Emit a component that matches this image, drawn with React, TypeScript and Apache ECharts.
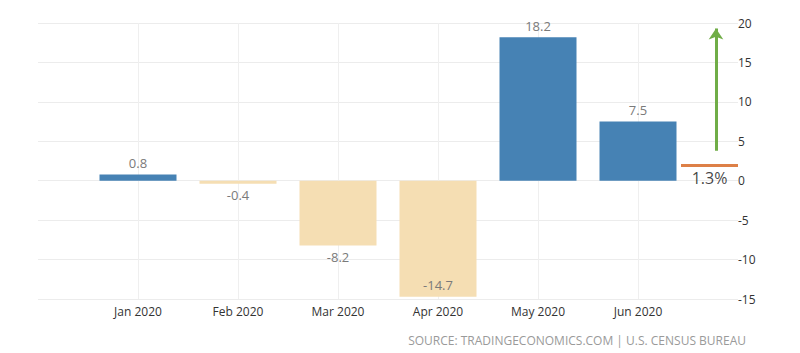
import React, { useEffect, useRef } from "react";
import * as echarts from "echarts";

const categories = ["Jan 2020", "Feb 2020", "Mar 2020", "Apr 2020", "May 2020", "Jun 2020"];
const values = [0.8, -0.4, -8.2, -14.7, 18.2, 7.5];
const yTicks = [-15, -10, -5, 0, 5, 10, 15, 20];
// forecast marker (drawn level, label), and arrow span
const forecastStart = 5.43;
const forecastEnd = 6.0;
const forecastLevel = 1.9;
const forecastLabel = "1.3%";
const arrowX = 5.78;
const arrowFrom = 3.8;
const arrowTo = 19.3;
const sourceText = "SOURCE: TRADINGECONOMICS.COM | U.S. CENSUS BUREAU";

const FONT = "'Open Sans', 'Noto Sans', sans-serif";

export default function App() {
  const ref = useRef<HTMLDivElement>(null);
  useEffect(() => {
    document.body.style.margin = "0";
    const chart = echarts.init(ref.current!, undefined, { renderer: "svg" });
    const barData = values.map((v, i) => ({
      value: [i, v],
      itemStyle: { color: v >= 0 ? "#4682B4" : "#F5DEB3" },
      label: {
        position: v >= 0 ? "top" : v < -12 ? "insideBottom" : "bottom",
      },
    }));
    chart.setOption({
      animation: false,
      grid: { left: 38, right: 62, top: 23, bottom: 54 },
      xAxis: {
        type: "value",
        min: -1,
        max: 6,
        interval: 1,
        axisLine: { show: false },
        axisTick: { show: false },
        splitLine: { show: false },
        axisLabel: {
          color: "#333",
          fontFamily: FONT,
          fontSize: 12,
          margin: 6,
          formatter: (v: number) => categories[v] ?? "",
        },
      },
      yAxis: {
        type: "value",
        position: "right",
        min: yTicks[0],
        max: yTicks[yTicks.length - 1],
        interval: 5,
        axisLine: { show: false },
        axisTick: { show: false },
        splitLine: { lineStyle: { color: "#ececec", width: 1 } },
        axisLabel: {
          color: "#333",
          fontFamily: FONT,
          fontSize: 12,
          margin: 0,
          align: "left",
        },
      },
      series: [
        {
          type: "line",
          data: [],
          silent: true,
          z: 0,
          markLine: {
            silent: true,
            z: 0,
            symbol: ["none", "none"],
            label: { show: false },
            lineStyle: { color: "#efefef", width: 1, type: "solid" },
            data: categories.map((_, i) => ({ xAxis: i })),
          },
        },
        {
          type: "bar",
          barWidth: 77,
          data: barData,
          label: {
            show: true,
            color: "#7a7a7a",
            fontFamily: FONT,
            fontSize: 13,
            distance: 5,
            formatter: (p: any) => p.value[1].toFixed(1),
          },
          z: 2,
        },
        {
          type: "lines",
          coordinateSystem: "cartesian2d",
          silent: true,
          symbol: ["none", "none"],
          lineStyle: { color: "#DD8047", width: 3, opacity: 1 },
          data: [{ coords: [[forecastStart, forecastLevel], [forecastEnd, forecastLevel]] }],
          z: 3,
        },
        {
          type: "lines",
          coordinateSystem: "cartesian2d",
          silent: true,
          symbol: ["none", "arrow"],
          symbolSize: 11,
          lineStyle: { color: "#70AD47", width: 3, opacity: 1 },
          data: [{ coords: [[arrowX, arrowFrom], [arrowX, arrowTo]] }],
          z: 3,
        },
        {
          type: "scatter",
          symbolSize: 0,
          silent: true,
          data: [[(forecastStart + forecastEnd) / 2, forecastLevel]],
          label: {
            show: true,
            position: "bottom",
            distance: 4,
            color: "#111",
            fontFamily: FONT,
            fontSize: 16,
            formatter: () => forecastLabel,
          },
        },
      ],
      graphic: [
        {
          type: "text",
          right: 54,
          top: 334,
          style: {
            text: sourceText,
            fill: "#9a9a9a",
            font: `12px ${FONT}`,
          },
        },
      ],
    });
    return () => chart.dispose();
  }, []);
  return <div ref={ref} style={{ width: 800, height: 353 }} />;
}
